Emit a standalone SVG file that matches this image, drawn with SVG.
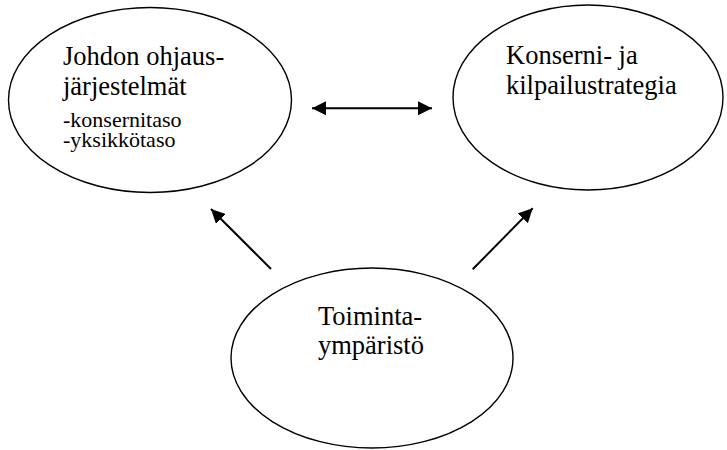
<svg xmlns="http://www.w3.org/2000/svg" width="727" height="450" viewBox="0 0 727 450">
<style>
.node{fill:#fff;stroke:#000;stroke-width:1.4}
.big{font-size:26.5px;fill:#000}
.small{font-size:22px;fill:#000}
.conn line{stroke:#000;stroke-width:2}
</style>
<defs>
<marker id="ah" markerUnits="userSpaceOnUse" markerWidth="14" markerHeight="14" viewBox="0 0 14 14" refX="14" refY="7" orient="auto-start-reverse">
<path d="M0,0 L14,7 L0,14 z" fill="#000"/>
</marker>
</defs>
<rect width="727" height="450" fill="#fff"/>
<g font-family="'Liberation Serif', 'Times New Roman', Times, serif">
<g id="johdon">
<ellipse class="node" cx="150" cy="100" rx="141.5" ry="92.5"/>
<text class="big" x="63" y="65">Johdon ohjaus-</text>
<text class="big" x="63" y="95">järjestelmät</text>
<text class="small" x="63" y="126.5">-konsernitaso</text>
<text class="small" x="63" y="147">-yksikkötaso</text>
</g>
<g id="strategia">
<ellipse class="node" cx="588" cy="97.5" rx="135" ry="92.5"/>
<text class="big" x="506" y="64">Konserni- ja</text>
<text class="big" x="506" y="94">kilpailustrategia</text>
</g>
<g id="toimintaymparisto">
<ellipse class="node" cx="372" cy="358" rx="141" ry="90"/>
<text class="big" x="318" y="325">Toiminta-</text>
<text class="big" x="318" y="354">ympäristö</text>
</g>
</g>
<g id="connectors" class="conn">
<line x1="312" y1="108.3" x2="432" y2="108.3" marker-start="url(#ah)" marker-end="url(#ah)"/>
<line x1="271" y1="269" x2="211" y2="209" marker-end="url(#ah)"/>
<line x1="472.7" y1="269.3" x2="532.7" y2="208.3" marker-end="url(#ah)"/>
</g>
</svg>
